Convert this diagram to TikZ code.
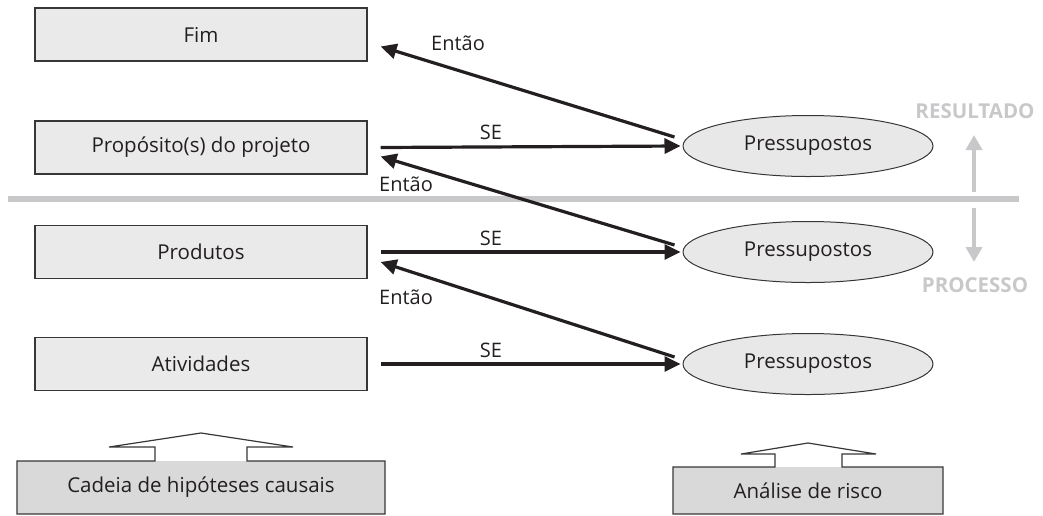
\documentclass[tikz,border=0pt]{standalone}
\usepackage{fontspec}
\setmainfont{Open Sans}
\usetikzlibrary{arrows.meta,shapes.geometric}
\definecolor{boxfill}{RGB}{234,234,235}
\definecolor{ellfill}{RGB}{232,232,233}
\definecolor{basefill}{RGB}{217,217,218}
\definecolor{edge}{RGB}{55,55,55}
\definecolor{sep}{RGB}{200,200,202}
\definecolor{ink}{RGB}{35,31,32}
\begin{document}
\begin{tikzpicture}[x=1pt,y=-1pt,
  levelbox/.style={draw=edge,line width=1.2pt,fill=boxfill,rectangle,
    minimum width=332pt,minimum height=53pt,inner sep=0pt,
    font=\fontsize{20.5}{24}\selectfont,text=ink},
  assume/.style={draw=edge,line width=1pt,fill=ellfill,ellipse,
    minimum width=250pt,minimum height=61pt,inner sep=0pt,
    font=\fontsize{20.5}{24}\selectfont,text=ink},
  lbl/.style={font=\fontsize{20}{24}\selectfont,text=ink,inner sep=0pt},
  sidelbl/.style={font=\bfseries\fontsize{20.5}{24}\selectfont,text=sep,inner sep=0pt},
  link/.style={draw=ink,line width=3.2pt,-{Triangle[length=16pt,width=15pt]}},
  trend/.style={draw=sep,line width=4pt,-{Triangle[length=15pt,width=16pt]}},
  basebox/.style={fill=basefill,rectangle,inner sep=0pt,
    font=\fontsize{20.5}{24}\selectfont,text=ink},
  outline/.style={draw=edge,line width=1.2pt,line join=miter}]
\useasboundingbox (0,0) rectangle (1043,515);

% separator between result and process levels
\draw[sep,line width=6pt] (8,199) -- (1019,199);

% hierarchy of objectives
\node[levelbox] (fim)  at (201,34.5)  {Fim};
\node[levelbox] (prop) at (201,147.5) {Propósito(s) do projeto};
\node[levelbox] (prod) at (201,252)   {Produtos};
\node[levelbox] (ativ) at (201,364)   {Atividades};

% assumptions
\node[assume] (e1) at (808,146) {Pressupostos};
\node[assume] (e2) at (808,252) {Pressupostos};
\node[assume] (e3) at (808,364) {Pressupostos};

% "if" links
\draw[link] ([xshift=13pt]prop.east) -- ([xshift=-2pt]e1.west);
\draw[link] ([xshift=13pt]prod.east) -- ([xshift=-2pt]e2.west);
\draw[link] ([xshift=13pt]ativ.east) -- ([xshift=-2pt]e3.west);

% "then" links
\draw[link] ([xshift=-8pt,yshift=9pt]e1.west) -- ([xshift=13pt,yshift=-12pt]fim.east);
\draw[link] ([xshift=-8pt,yshift=7pt]e2.west) -- ([xshift=13pt,yshift=-9pt]prop.east);
\draw[link] ([xshift=-8pt,yshift=7pt]e3.west) -- ([xshift=13pt,yshift=-10pt]prod.east);

% link labels
\node[lbl] (se1) at (491,132) {SE};
\node[lbl] (se2) at (491,238) {SE};
\node[lbl] (se3) at (491,350) {SE};
\node[lbl] (en1) at (458,43)  {Então};
\node[lbl] (en2) at (406,184) {Então};
\node[lbl] (en3) at (406,297) {Então};

% direction of the two levels
\node[sidelbl] (res)  at (975,111) {RESULTADO};
\node[sidelbl] (proc) at (975,285) {PROCESSO};
\coordinate (upfrom) at (974,192);
\coordinate (upto)   at (974,135);
\coordinate (dnfrom) at (974,208);
\coordinate (dnto)   at (974,262);
\draw[trend] (upfrom) -- (upto);
\draw[trend] (dnfrom) -- (dnto);

% base: chain of causal hypotheses
\node[basebox,minimum width=368pt,minimum height=53pt] (cadeia) at (201,487.5) {Cadeia de hipóteses causais};
\draw[outline] (17,514) -- (17,461) -- (155,461) -- (155,447) -- (109,447) -- (201,433)
  -- (293,447) -- (247,447) -- (247,461) -- (385,461) -- (385,514) -- cycle;

% base: risk analysis
\node[basebox,minimum width=270pt,minimum height=47pt] (risco) at (808,490.5) {Análise de risco};
\draw[outline] (673,514) -- (673,467) -- (775,467) -- (775,454) -- (741,454) -- (808,443)
  -- (876,454) -- (842,454) -- (842,467) -- (943,467) -- (943,514) -- cycle;
\end{tikzpicture}
\end{document}
